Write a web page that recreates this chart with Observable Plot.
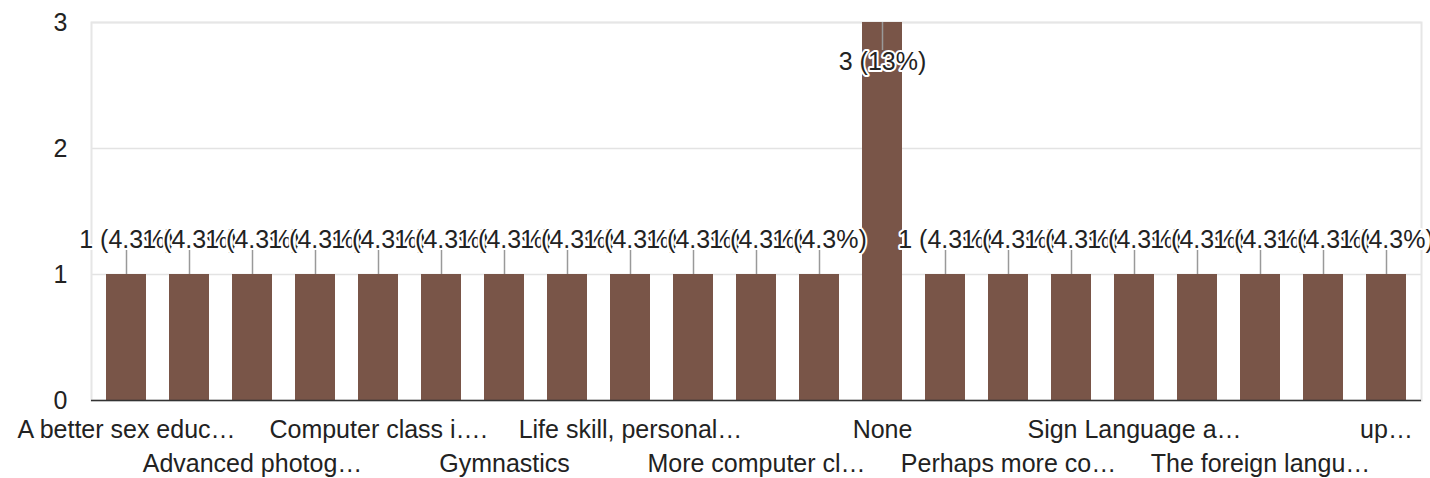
<!DOCTYPE html>
<html>
<head>
<meta charset="utf-8">
<script src="https://cdn.jsdelivr.net/npm/d3@7"></script>
<script src="https://cdn.jsdelivr.net/npm/@observablehq/plot@0.6"></script>
<style>
  html, body { margin: 0; padding: 0; background: #fff; }
  #chart { width: 1430px; height: 478px; }
</style>
</head>
<body>
<div id="chart"></div>
<script>
// Categories (unlabelled ones in the reference are placeholders, their tick labels are hidden)
const categories = [
  "A better sex educ…", "Acting", "Advanced photog…", "Art",
  "Computer class i….", "Cooking", "Gymnastics", "Journalism",
  "Life skill, personal…", "Marine biology", "More computer cl…", "Music",
  "None", "Nutrition", "Perhaps more co…", "Robotics",
  "Sign Language a…", "Statistics", "The foreign langu…", "Typing", "up…"
];
const counts = [1, 1, 1, 1, 1, 1, 1, 1, 1, 1, 1, 1, 3, 1, 1, 1, 1, 1, 1, 1, 1];
// Tick labels shown on the two rows of the x axis
const tickRow1 = ["A better sex educ…", "Computer class i….", "Life skill, personal…", "None", "Sign Language a…", "up…"];
const tickRow2 = ["Advanced photog…", "Gymnastics", "More computer cl…", "Perhaps more co…", "The foreign langu…"];
const yTicks = [0, 1, 2, 3];

const total = d3.sum(counts);
const data = categories.map((c, i) => ({
  cat: c,
  value: counts[i],
  label: `${counts[i]} (${(counts[i] / total * 100).toPrecision(2)}%)`
}));
const maxV = d3.max(counts);
const tallBars = data.filter(d => d.value === maxV);
const otherBars = data.filter(d => d.value !== maxV);

const W = 1430, H = 478, mL = 91, mR = 9, mT = 22, mB = 78;
const pxPerUnit = (H - mT - mB) / 3;

const font = "'Liberation Sans', Arial, Helvetica, sans-serif";

const chart = Plot.plot({
  width: W,
  height: H,
  marginLeft: mL,
  marginRight: mR,
  marginTop: mT,
  marginBottom: mB,
  style: { fontFamily: font, fontSize: "25px", color: "#222", background: "#fff" },
  x: { domain: categories, paddingInner: 0.36, paddingOuter: 0.18, axis: null, label: null },
  y: { domain: [0, 3], axis: null, label: null },
  marks: [
    Plot.gridY([1, 2, 3], { stroke: "#e3e3e3", strokeOpacity: 1, strokeWidth: 1.5 }),
    Plot.frame({ stroke: "#e6e6e6", strokeWidth: 2 }),
    Plot.axisY(yTicks, { tickSize: 0, tickPadding: 24, fontSize: 25, fill: "#222", tickFormat: d3.format("d"), label: null }),
    Plot.barY(data, { x: "cat", y: "value", fill: "#795548" }),
    Plot.ruleY([0], { stroke: "#333", strokeWidth: 1.5 }),
    // leader lines
    Plot.ruleX(otherBars, { x: "cat", y1: "value", y2: d => d.value + 24 / pxPerUnit, stroke: "#999", strokeWidth: 1.5 }),
    Plot.ruleX(tallBars, { x: "cat", y1: "value", y2: d => d.value - 28 / pxPerUnit, stroke: "#999", strokeWidth: 1.5 }),
    // annotation labels
    Plot.text(otherBars, { x: "cat", y: "value", text: "label", dy: -35, fontSize: 25, fill: "#222", stroke: "white", strokeWidth: 4 }),
    Plot.text(tallBars, { x: "cat", y: "value", text: "label", dy: 39, fontSize: 25, fill: "#222", stroke: "white", strokeWidth: 4 }),
    // two-row category axis
    Plot.axisX(tickRow1, { tickSize: 0, tickPadding: 20, fontSize: 25, fill: "#222", label: null }),
    Plot.axisX(tickRow2, { tickSize: 0, tickPadding: 54, fontSize: 25, fill: "#222", label: null })
  ]
});
document.getElementById("chart").appendChild(chart);
</script>
</body>
</html>
